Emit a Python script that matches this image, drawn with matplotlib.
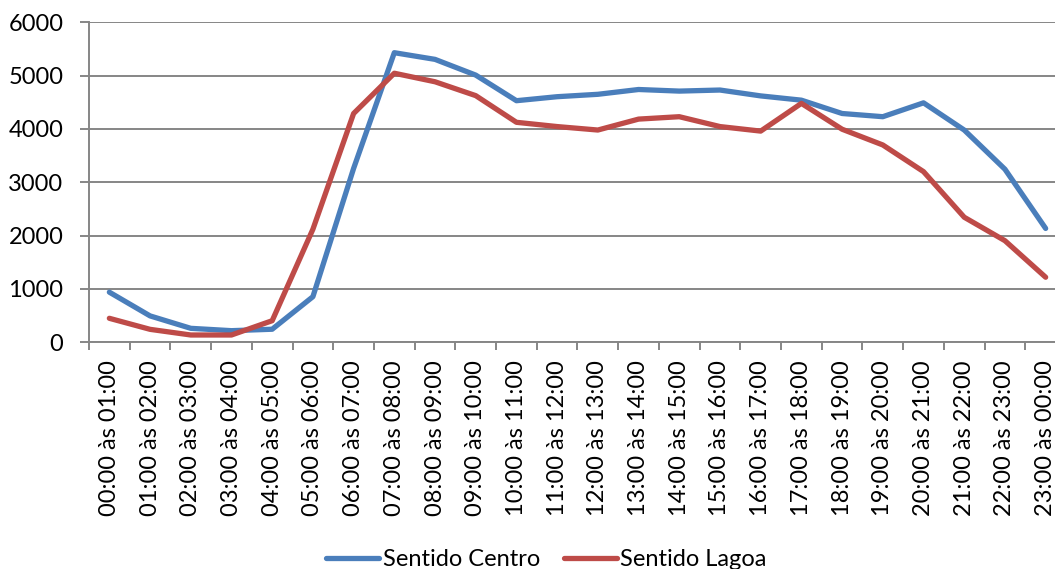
import numpy as np
import matplotlib
matplotlib.use("Agg")
import matplotlib.pyplot as plt

plt.rcParams['font.family'] = ['Lato', 'DejaVu Sans']

# faixas horarias
horas = ["%02d:00 às %02d:00" % (h, (h + 1) % 24) for h in range(24)]

centro = [940, 495, 262, 218, 245, 855, 3260, 5430, 5305, 5010, 4530, 4605,
          4650, 4740, 4710, 4730, 4620, 4540, 4290, 4230, 4490, 3980, 3245, 2135]
lagoa = [450, 243, 137, 137, 405, 2120, 4290, 5045, 4885, 4625, 4125, 4045,
         3980, 4185, 4230, 4045, 3960, 4480, 3995, 3700, 3200, 2345, 1905, 1220]

cor_centro = '#4A7EBB'
cor_lagoa = '#BE4B48'
cinza = '#868686'
fs = 17

fig = plt.figure(figsize=(10.55, 5.69), dpi=100)
ax = fig.add_axes([89 / 1055, 226.7 / 569, 977 / 1055, 320 / 569])

x = np.arange(len(horas))
ax.plot(x, centro, color=cor_centro, lw=3.8, label='Sentido Centro', solid_capstyle='round')
ax.plot(x, lagoa, color=cor_lagoa, lw=3.8, label='Sentido Lagoa', solid_capstyle='round')

ax.set_xlim(-0.5, 23.5)
ax.set_ylim(0, 6000)
ax.set_yticks(np.arange(0, 6001, 1000))
ax.grid(axis='y', color=cinza, lw=1.4)
ax.set_axisbelow(True)

ax.set_xticks(x)
ax.set_xticklabels(horas, rotation=90, fontsize=fs)
ax.set_xticks(np.arange(-0.5, 24, 1), minor=True)
ax.tick_params(axis='x', which='major', length=0, pad=13)
ax.tick_params(axis='x', which='minor', length=6, width=1.4, color=cinza)
ax.tick_params(axis='y', length=6.5, width=1.4, color=cinza, pad=12, labelsize=fs)

for s in ['top', 'right']:
    ax.spines[s].set_visible(False)
for s in ['left', 'bottom']:
    ax.spines[s].set_color(cinza)
    ax.spines[s].set_linewidth(1.4)

fig.legend(loc='center', bbox_to_anchor=(0.518, 0.016), ncol=2, frameon=False,
           fontsize=fs, handlelength=2.25, handletextpad=0.15, columnspacing=1.0)

fig.savefig('out.png', dpi=100)
